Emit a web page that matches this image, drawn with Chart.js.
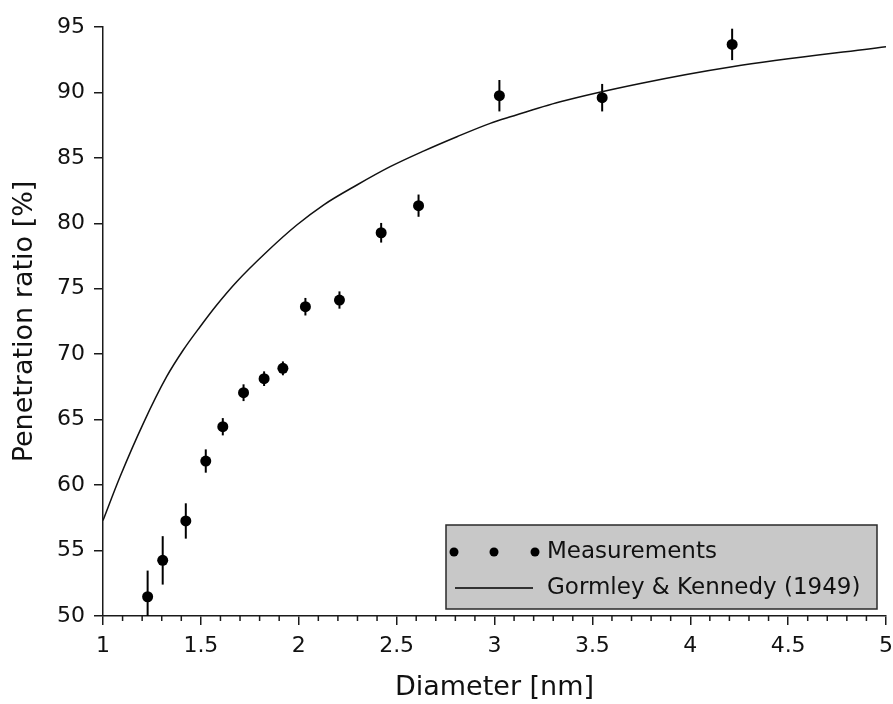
<!DOCTYPE html>
<html>
<head>
<meta charset="utf-8">
<script src="https://cdn.jsdelivr.net/npm/chart.js@4.4.1/dist/chart.umd.min.js"></script>
<style>
  html, body { margin: 0; padding: 0; background: #ffffff; }
  #wrap { width: 893px; height: 704px; }
</style>
</head>
<body>
<div id="wrap"><canvas id="c" width="893" height="704"></canvas></div>
<script>
// ---- Data ----
const measDiameter = [1.228, 1.305, 1.423, 1.525, 1.612, 1.718, 1.823, 1.919, 2.034, 2.208, 2.421, 2.612, 3.025, 3.55, 4.214];
const measPenetration = [51.47, 54.25, 57.26, 61.84, 64.46, 67.06, 68.13, 68.92, 73.63, 74.14, 79.28, 81.35, 89.75, 89.6, 93.67];
const measError = [2.0, 1.85, 1.35, 0.89, 0.66, 0.64, 0.56, 0.53, 0.67, 0.66, 0.75, 0.85, 1.2, 1.05, 1.2];

const theoryDiameter = [1.0, 1.087, 1.206, 1.325, 1.41, 1.496, 1.581, 1.683, 1.837, 1.99, 2.126, 2.297, 2.467, 2.637, 2.808, 2.978, 3.081, 3.336, 3.745, 4.214, 5.0];
const theoryPenetration = [57.3, 60.64, 64.72, 68.28, 70.32, 72.1, 73.76, 75.54, 77.83, 79.87, 81.4, 82.93, 84.33, 85.52, 86.62, 87.64, 88.14, 89.29, 90.69, 91.97, 93.49];

const xTickValues = [1, 1.5, 2, 2.5, 3, 3.5, 4, 4.5, 5];
const yTickValues = [50, 55, 60, 65, 70, 75, 80, 85, 90, 95];

const legendLabels = ["Measurements", "Gormley & Kennedy (1949)"];
const xTitle = "Diameter [nm]";
const yTitle = "Penetration ratio [%]";

const FONT = "'DejaVu Sans', sans-serif";
const INK = '#1a1a1a';

const measPoints = measDiameter.map((x, i) => ({ x: x, y: measPenetration[i] }));
const theoryPoints = theoryDiameter.map((x, i) => ({ x: x, y: theoryPenetration[i] }));

// Error bars drawn through the y scale
const errorBarPlugin = {
  id: 'errorBars',
  beforeDatasetsDraw(chart) {
    const ctx = chart.ctx;
    const meta = chart.getDatasetMeta(0);
    const ys = chart.scales.y;
    const area = chart.chartArea;
    ctx.save();
    ctx.beginPath();
    ctx.rect(area.left, area.top - 10, area.right - area.left, area.bottom - area.top + 10);
    ctx.clip();
    ctx.strokeStyle = '#000';
    ctx.lineWidth = 2;
    meta.data.forEach((pt, i) => {
      const y1 = ys.getPixelForValue(measPenetration[i] - measError[i]);
      const y2 = ys.getPixelForValue(measPenetration[i] + measError[i]);
      ctx.beginPath();
      ctx.moveTo(pt.x, y1);
      ctx.lineTo(pt.x, y2);
      ctx.stroke();
    });
    ctx.restore();
  }
};

// Minor x ticks every 0.1
const minorTickPlugin = {
  id: 'minorTicks',
  afterDraw(chart) {
    const ctx = chart.ctx;
    const xs = chart.scales.x;
    const bottom = chart.chartArea.bottom;
    ctx.save();
    ctx.strokeStyle = INK;
    ctx.lineWidth = 1.5;
    for (let i = 10; i <= 50; i++) {
      if (i % 5 === 0) continue;
      const px = xs.getPixelForValue(i / 10);
      ctx.beginPath();
      ctx.moveTo(px, bottom);
      ctx.lineTo(px, bottom + 5);
      ctx.stroke();
    }
    ctx.restore();
  }
};

// Boxed legend inside the plot area, bottom right
const boxLegendPlugin = {
  id: 'boxLegend',
  afterDraw(chart) {
    const ctx = chart.ctx;
    const a = chart.chartArea;
    const w = 431, h = 84;
    const left = a.right - 440, top = a.bottom - 91;
    ctx.save();
    ctx.fillStyle = '#c8c8c8';
    ctx.fillRect(left, top, w, h);
    ctx.strokeStyle = '#2a2a2a';
    ctx.lineWidth = 1.5;
    ctx.strokeRect(left, top, w, h);
    const row1 = top + 27, row2 = top + 63;
    ctx.fillStyle = '#000';
    [8, 48, 89].forEach(dx => {
      ctx.beginPath();
      ctx.arc(left + dx, row1, 4.5, 0, Math.PI * 2);
      ctx.fill();
    });
    ctx.strokeStyle = '#000';
    ctx.lineWidth = 1.3;
    ctx.beginPath();
    ctx.moveTo(left + 9, row2);
    ctx.lineTo(left + 87, row2);
    ctx.stroke();
    ctx.font = '23px ' + FONT;
    ctx.textBaseline = 'middle';
    ctx.textAlign = 'left';
    ctx.fillStyle = '#111';
    ctx.fillText(legendLabels[0], left + 101, row1);
    ctx.fillText(legendLabels[1], left + 101, row2);
    ctx.restore();
  }
};

new Chart(document.getElementById('c'), {
  data: {
    datasets: [
      {
        type: 'scatter',
        label: legendLabels[0],
        data: measPoints,
        pointRadius: 5.5,
        pointHoverRadius: 5.5,
        pointBackgroundColor: '#000',
        pointBorderWidth: 0,
        showLine: false,
        order: 0
      },
      {
        type: 'line',
        label: legendLabels[1],
        data: theoryPoints,
        borderColor: '#111',
        borderWidth: 1.5,
        pointRadius: 0,
        fill: false,
        cubicInterpolationMode: 'monotone',
        order: 1
      }
    ]
  },
  plugins: [errorBarPlugin, minorTickPlugin, boxLegendPlugin],
  options: {
    responsive: false,
    animation: false,
    events: [],
    layout: { padding: { top: 27, right: 7, left: 0, bottom: 0 } },
    plugins: {
      legend: { display: false },
      tooltip: { enabled: false }
    },
    scales: {
      x: {
        type: 'linear',
        position: 'bottom',
        min: 1,
        max: 5,
        afterFit(scale) { scale.height = 88; scale.paddingRight = 0; scale.paddingLeft = 0; },
        afterBuildTicks(scale) { scale.ticks = xTickValues.map(v => ({ value: v })); },
        border: { display: true, color: INK, width: 1.5 },
        grid: { drawOnChartArea: false, drawTicks: true, tickLength: 9, color: INK, lineWidth: 1.5 },
        ticks: { color: '#111', font: { family: FONT, size: 22 }, padding: 8, maxRotation: 0, autoSkip: false,
                 callback: v => String(v) },
        title: { display: true, text: xTitle, color: '#111', font: { family: FONT, size: 27 }, padding: { top: 0, bottom: 0 } }
      },
      y: {
        type: 'linear',
        position: 'left',
        min: 50,
        max: 95,
        afterFit(scale) { scale.width = 103; scale.paddingTop = 0; scale.paddingBottom = 0; },
        afterBuildTicks(scale) { scale.ticks = yTickValues.map(v => ({ value: v })); },
        border: { display: true, color: INK, width: 1.5 },
        grid: { drawOnChartArea: false, drawTicks: true, tickLength: 9, color: INK, lineWidth: 1.5 },
        ticks: { color: '#111', font: { family: FONT, size: 22 }, padding: 9, autoSkip: false,
                 callback: v => String(v) },
        title: { display: true, text: yTitle, color: '#111', font: { family: FONT, size: 27 }, padding: { top: 9, bottom: 0 } }
      }
    }
  }
});
</script>
</body>
</html>
